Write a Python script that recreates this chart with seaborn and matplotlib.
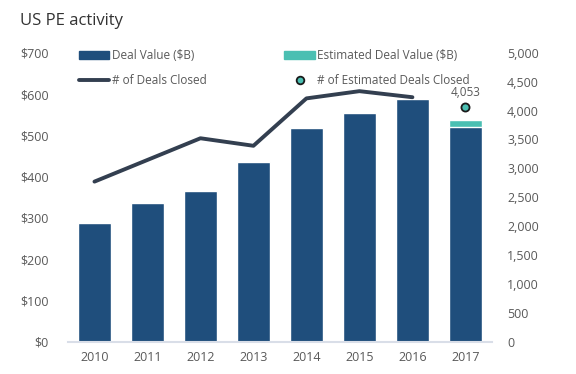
import matplotlib
matplotlib.use("Agg")
import matplotlib.pyplot as plt
from matplotlib.lines import Line2D
from matplotlib.patches import Patch
from matplotlib.ticker import FuncFormatter
import seaborn as sns
import pandas as pd

years = ["2010", "2011", "2012", "2013", "2014", "2015", "2016", "2017"]
deal_value = [288, 337, 366, 435, 517, 553, 588, 519]
est_deal_value = [0, 0, 0, 0, 0, 0, 0, 18]
deals_closed = [2770, 3145, 3520, 3390, 4210, 4335, 4230]
est_deals_closed = 4053

DARK_BLUE = "#1f4e7c"
TEAL = "#4bbfb2"
LINE = "#333f50"
TEXT = "#595959"

sns.set_theme(style="white")
plt.rcParams["font.family"] = ["Open Sans", "DejaVu Sans"]

df = pd.DataFrame({"year": years, "value": deal_value,
                   "total": [v + e for v, e in zip(deal_value, est_deal_value)]})
line_df = pd.DataFrame({"pos": range(len(deals_closed)), "deals": deals_closed})

fig = plt.figure(figsize=(5.76, 3.74), dpi=100)
ax = fig.add_axes([0.118, 0.0864, 0.736, 0.7726])

sns.barplot(data=df, x="year", y="total", color=TEAL, saturation=1, width=0.63, ax=ax)
sns.barplot(data=df, x="year", y="value", color=DARK_BLUE, saturation=1, width=0.63, ax=ax)
ax.set_xlim(-0.5, 7.5)
ax.set_ylim(0, 700)
ax.set_yticks(range(0, 701, 100))
ax.yaxis.set_major_formatter(FuncFormatter(lambda v, p: f"${v:.0f}"))
ax.set_xlabel("")
ax.set_ylabel("")

ax2 = ax.twinx()
sns.lineplot(data=line_df, x="pos", y="deals", color=LINE, linewidth=2.8, ax=ax2)
ax2.scatter([len(years) - 1], [est_deals_closed], s=34, color=TEAL,
            edgecolor="#1a1a1a", linewidth=1.3, zorder=5)
ax2.annotate(f"{est_deals_closed:,}", (len(years) - 1, est_deals_closed),
             xytext=(0, 6), textcoords="offset points", ha="center", va="bottom",
             fontsize=8.5, color=TEXT)
ax2.set_ylim(0, 5000)
ax2.set_yticks(range(0, 5001, 500))
ax2.yaxis.set_major_formatter(FuncFormatter(lambda v, p: f"{v:,.0f}"))
ax2.set_ylabel("")
ax2.set_xlabel("")

for a in (ax, ax2):
    for s in a.spines.values():
        s.set_visible(False)
    a.tick_params(length=0, labelsize=9, labelcolor=TEXT)
ax.spines["bottom"].set_visible(True)
ax.spines["bottom"].set_color("#d9dee8")
ax.spines["bottom"].set_linewidth(1.5)
ax.tick_params(axis="x", pad=7)
ax.tick_params(axis="y", pad=14)
ax2.tick_params(axis="y", pad=11)

handles = [
    Patch(color=DARK_BLUE, label="Deal Value ($B)"),
    Line2D([], [], color=LINE, linewidth=2.8, label="# of Deals Closed"),
    Patch(color=TEAL, label="Estimated Deal Value ($B)"),
    Line2D([], [], marker="o", linestyle="none", markersize=5.5, markerfacecolor=TEAL,
           markeredgecolor="#1a1a1a", markeredgewidth=1.3, label="# of Estimated Deals Closed"),
]
leg = ax2.legend(handles=handles, ncol=2, loc="upper left", bbox_to_anchor=(0.0, 1.05),
                 frameon=False, fontsize=8.5, handlelength=2.6, handletextpad=0.2,
                 columnspacing=6.6, labelspacing=1.0)
for t in leg.get_texts():
    t.set_color(TEXT)

fig.text(0.035, 0.945, "US PE activity", fontsize=12, color="#333333", va="center")

fig.savefig("out.png", dpi=100)
